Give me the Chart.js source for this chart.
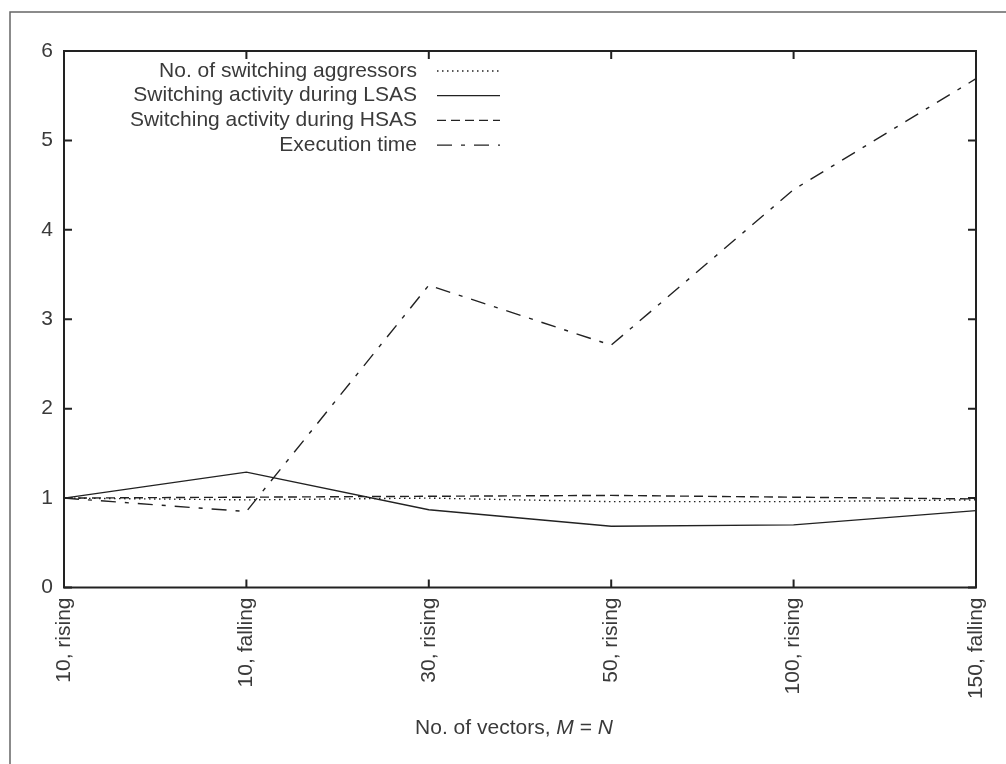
<!DOCTYPE html>
<html>
<head>
<meta charset="utf-8">
<script src="https://cdn.jsdelivr.net/npm/chart.js@4/dist/chart.umd.min.js"></script>
<style>
  html, body { margin: 0; padding: 0; background: #fff; }
  #wrap { width: 1006px; height: 764px; position: relative; }
</style>
</head>
<body>
<div id="wrap"><canvas id="chart" width="1006" height="764"></canvas></div>
<script>
// categories (x axis)
const categories = ['10, rising', '10, falling', '30, rising', '50, rising', '100, rising', '150, falling'];

// series values
const aggressors = [1.0, 0.98, 1.0, 0.96, 0.96, 0.98];
const lsasActivity = [1.0, 1.29, 0.87, 0.685, 0.70, 0.86];
const hsasActivity = [1.0, 1.01, 1.02, 1.03, 1.01, 0.99];
const execTime = [1.0, 0.85, 3.38, 2.71, 4.45, 5.69];

// y tick labels
const yTicks = [0, 1, 2, 3, 4, 5, 6];

const seriesNames = [
  'No. of switching aggressors',
  'Switching activity during LSAS',
  'Switching activity during HSAS',
  'Execution time',
];

const INK = '#222';
const TEXT = '#3a3a3a';
const FONT = '"Liberation Sans", Arimo, Helvetica, Arial, sans-serif';
const FS = 21;

Chart.defaults.font.family = FONT;
Chart.defaults.color = TEXT;

// gnuplot style frame: full box, inward ticks on every side, outer page frame
const framePlugin = {
  id: 'frame',
  afterDraw(chart) {
    const { ctx, chartArea: a, scales } = chart;
    ctx.save();

    // outer frame (only top and left visible in the crop)
    ctx.strokeStyle = '#666';
    ctx.lineWidth = 1.5;
    ctx.beginPath();
    ctx.moveTo(10, 764);
    ctx.lineTo(10, 12);
    ctx.lineTo(1006, 12);
    ctx.stroke();

    // plot box
    ctx.strokeStyle = INK;
    ctx.lineWidth = 2;
    ctx.strokeRect(a.left, a.top, a.right - a.left, a.bottom - a.top);

    // inward ticks
    const T = 8;
    ctx.beginPath();
    scales.y.ticks.forEach((t, i) => {
      const py = scales.y.getPixelForTick(i);
      ctx.moveTo(a.left, py); ctx.lineTo(a.left + T, py);
      ctx.moveTo(a.right, py); ctx.lineTo(a.right - T, py);
    });
    categories.forEach((c, i) => {
      const px = scales.x.getPixelForTick(i);
      ctx.moveTo(px, a.bottom); ctx.lineTo(px, a.bottom - T);
      ctx.moveTo(px, a.top); ctx.lineTo(px, a.top + T);
    });
    ctx.stroke();

    // legend, text right aligned, sample line to the right
    ctx.font = FS + 'px ' + FONT;
    ctx.textAlign = 'right';
    ctx.textBaseline = 'middle';
    chart.data.datasets.forEach((ds, i) => {
      const y = 71 + i * 24.7;
      ctx.fillStyle = TEXT;
      ctx.fillText(ds.label, 417, y);
      ctx.strokeStyle = INK;
      ctx.lineWidth = 1.3;
      ctx.setLineDash(ds.borderDash || []);
      ctx.beginPath();
      ctx.moveTo(437, y);
      ctx.lineTo(500, y);
      ctx.stroke();
    });
    ctx.setLineDash([]);

    // x axis title with italic M and N
    const parts = [
      ['No. of vectors, ', 'normal'],
      ['M', 'italic'],
      [' = ', 'normal'],
      ['N', 'italic'],
    ];
    let total = 0;
    parts.forEach(p => {
      ctx.font = p[1] + ' ' + FS + 'px ' + FONT;
      total += ctx.measureText(p[0]).width;
    });
    let x = 514 - total / 2;
    ctx.textAlign = 'left';
    ctx.fillStyle = TEXT;
    parts.forEach(p => {
      ctx.font = p[1] + ' ' + FS + 'px ' + FONT;
      ctx.fillText(p[0], x, 728);
      x += ctx.measureText(p[0]).width;
    });

    ctx.restore();
  },
};

const lineStyle = (label, data, dash) => ({
  label,
  data,
  borderColor: INK,
  borderWidth: 1.4,
  borderDash: dash,
  pointRadius: 0,
  tension: 0,
  fill: false,
});

new Chart(document.getElementById('chart'), {
  type: 'line',
  data: {
    labels: categories,
    datasets: [
      lineStyle(seriesNames[0], aggressors, [1.5, 3.5]),
      lineStyle(seriesNames[1], lsasActivity, []),
      lineStyle(seriesNames[2], hsasActivity, [9, 5]),
      lineStyle(seriesNames[3], execTime, [15, 9, 4, 9]),
    ],
  },
  options: {
    responsive: false,
    animation: false,
    layout: { padding: { left: 0, top: 51, right: 30, bottom: 0 } },
    plugins: {
      legend: { display: false },
      tooltip: { enabled: false },
    },
    scales: {
      x: {
        offset: false,
        grid: { display: false, drawTicks: false },
        border: { display: false },
        ticks: {
          minRotation: 90,
          maxRotation: 90,
          padding: 10,
          color: TEXT,
          font: { size: FS },
        },
        afterFit(scale) {
          scale.height = 176.5;
          // let the layout padding alone decide the plot edges
          scale.paddingLeft = 0;
          scale.paddingRight = 0;
        },
      },
      y: {
        min: yTicks[0],
        max: yTicks[yTicks.length - 1],
        grid: { display: false, drawTicks: false },
        border: { display: false },
        afterBuildTicks(scale) { scale.ticks = yTicks.map(v => ({ value: v })); },
        ticks: {
          padding: 11,
          color: TEXT,
          font: { size: FS },
        },
        afterFit(scale) {
          scale.width = 64;
          scale.paddingTop = 0;
          scale.paddingBottom = 0;
        },
      },
    },
  },
  plugins: [framePlugin],
});
</script>
</body>
</html>
